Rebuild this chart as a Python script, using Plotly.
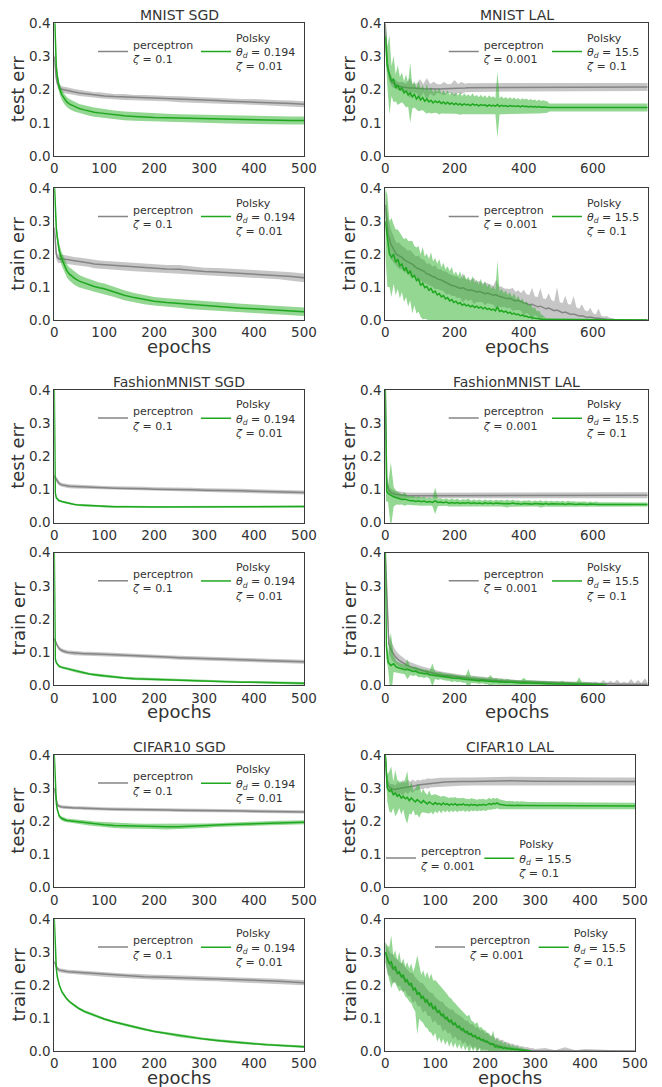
import plotly.graph_objects as go

W, H = 662, 1087
FONT = "DejaVu Sans"
TXT = "#333333"


def grid(values, step, start=0, head=(), tail=()):
    n = len(values) - len(head) - len(tail)
    return list(head) + [start + step * i for i in range(n)] + list(tail)


# ------------------------------------------------------------------ SGD data
SGD_X = [0, 2, 4, 6, 8, 10, 15, 20, 25, 30, 40, 50, 60, 70, 80, 90, 100, 120, 140, 160,
         180, 200, 225, 250, 275, 300, 325, 350, 375, 400, 425, 450, 475, 500]

MN_SGD_TEST_P = [0.300, 0.260, 0.235, 0.220, 0.212, 0.207, 0.201, 0.199, 0.197, 0.196, 0.193, 0.190,
                 0.188, 0.186, 0.184, 0.183, 0.181, 0.179, 0.178, 0.176, 0.175, 0.174, 0.173, 0.171,
                 0.170, 0.168, 0.167, 0.165, 0.164, 0.163, 0.161, 0.160, 0.158, 0.156]
MN_SGD_TEST_P_SD = [0.015, 0.013, 0.012, 0.011, 0.010, 0.010, 0.009, 0.010, 0.009, 0.010, 0.009, 0.009,
                    0.010, 0.009, 0.008, 0.009, 0.009, 0.008, 0.009, 0.008, 0.009, 0.008, 0.008, 0.009,
                    0.008, 0.008, 0.009, 0.008, 0.008, 0.009, 0.008, 0.008, 0.009, 0.009]
MN_SGD_TEST_G = [0.450, 0.320, 0.270, 0.240, 0.220, 0.205, 0.185, 0.172, 0.163, 0.157, 0.149, 0.143,
                 0.139, 0.135, 0.132, 0.130, 0.128, 0.124, 0.121, 0.119, 0.117, 0.116, 0.115, 0.114,
                 0.113, 0.112, 0.111, 0.110, 0.109, 0.108, 0.108, 0.107, 0.107, 0.107]
MN_SGD_TEST_G_SD = [0.020, 0.020, 0.019, 0.018, 0.017, 0.016, 0.016, 0.015, 0.015, 0.015, 0.015, 0.014,
                    0.014, 0.014, 0.014, 0.014, 0.013, 0.013, 0.013, 0.013, 0.013, 0.013, 0.012, 0.012,
                    0.012, 0.012, 0.012, 0.012, 0.012, 0.012, 0.012, 0.012, 0.012, 0.012]

MN_SGD_TRAIN_P = [0.280, 0.230, 0.200, 0.190, 0.186, 0.185, 0.186, 0.185, 0.183, 0.182, 0.179, 0.177,
                  0.175, 0.173, 0.170, 0.169, 0.168, 0.165, 0.163, 0.160, 0.158, 0.156, 0.155, 0.154,
                  0.150, 0.147, 0.146, 0.144, 0.142, 0.140, 0.138, 0.136, 0.132, 0.128]
MN_SGD_TRAIN_P_SD = [0.016, 0.015, 0.014, 0.013, 0.013, 0.012, 0.013, 0.012, 0.013, 0.012, 0.012, 0.013,
                     0.012, 0.012, 0.013, 0.012, 0.012, 0.012, 0.013, 0.012, 0.012, 0.012, 0.012, 0.013,
                     0.012, 0.012, 0.012, 0.013, 0.012, 0.012, 0.012, 0.012, 0.013, 0.013]
MN_SGD_TRAIN_G = [0.420, 0.330, 0.280, 0.250, 0.225, 0.210, 0.185, 0.166, 0.150, 0.140, 0.127, 0.118,
                  0.112, 0.107, 0.102, 0.098, 0.095, 0.085, 0.075, 0.068, 0.062, 0.057, 0.053, 0.050,
                  0.046, 0.043, 0.040, 0.038, 0.036, 0.034, 0.032, 0.030, 0.028, 0.025]
MN_SGD_TRAIN_G_SD = [0.020, 0.020, 0.020, 0.020, 0.020, 0.020, 0.020, 0.020, 0.020, 0.020, 0.020, 0.019,
                     0.018, 0.017, 0.016, 0.016, 0.016, 0.015, 0.015, 0.014, 0.014, 0.013, 0.013, 0.013,
                     0.013, 0.013, 0.013, 0.013, 0.013, 0.013, 0.013, 0.013, 0.013, 0.013]

FM_SGD_TEST_P = [0.140, 0.135, 0.130, 0.125, 0.121, 0.118, 0.114, 0.112, 0.111, 0.110, 0.109, 0.108,
                 0.107, 0.107, 0.106, 0.106, 0.105, 0.104, 0.104, 0.103, 0.102, 0.101, 0.101, 0.100,
                 0.099, 0.098, 0.098, 0.097, 0.096, 0.095, 0.094, 0.093, 0.092, 0.091]
FM_SGD_TEST_P_SD = [0.008, 0.008, 0.007, 0.007, 0.007, 0.006, 0.006, 0.006, 0.006, 0.006, 0.006, 0.006,
                    0.006, 0.006, 0.006, 0.006, 0.006, 0.006, 0.006, 0.006, 0.006, 0.006, 0.006, 0.006,
                    0.006, 0.006, 0.006, 0.006, 0.006, 0.006, 0.006, 0.006, 0.006, 0.006]
FM_SGD_TEST_G = [0.400, 0.090, 0.075, 0.071, 0.068, 0.066, 0.064, 0.062, 0.060, 0.058, 0.055, 0.053,
                 0.052, 0.051, 0.050, 0.050, 0.049, 0.048, 0.048, 0.047, 0.047, 0.047, 0.047, 0.047,
                 0.047, 0.047, 0.047, 0.047, 0.048, 0.048, 0.048, 0.048, 0.049, 0.049]
FM_SGD_TEST_G_SD = [0.003] * 34

FM_SGD_TRAIN_P = [0.140, 0.132, 0.126, 0.120, 0.115, 0.110, 0.105, 0.102, 0.100, 0.099, 0.097, 0.096,
                  0.095, 0.095, 0.094, 0.094, 0.093, 0.092, 0.091, 0.090, 0.088, 0.086, 0.085, 0.083,
                  0.082, 0.080, 0.079, 0.078, 0.077, 0.076, 0.075, 0.073, 0.072, 0.071]
FM_SGD_TRAIN_P_SD = [0.006] * 34
FM_SGD_TRAIN_G = [0.400, 0.080, 0.068, 0.063, 0.060, 0.057, 0.054, 0.052, 0.050, 0.048, 0.044, 0.040,
                  0.037, 0.034, 0.032, 0.030, 0.028, 0.025, 0.022, 0.020, 0.019, 0.017, 0.015, 0.014,
                  0.013, 0.012, 0.011, 0.010, 0.009, 0.009, 0.008, 0.007, 0.007, 0.006]
FM_SGD_TRAIN_G_SD = [0.004] * 34

CF_SGD_TEST_P = [0.300, 0.280, 0.258, 0.250, 0.247, 0.245, 0.243, 0.242, 0.241, 0.241, 0.240, 0.240,
                 0.239, 0.238, 0.238, 0.237, 0.237, 0.236, 0.236, 0.235, 0.235, 0.234, 0.234, 0.233,
                 0.233, 0.232, 0.232, 0.231, 0.231, 0.230, 0.230, 0.229, 0.228, 0.228]
CF_SGD_TEST_P_SD = [0.005] * 34
CF_SGD_TEST_G = [0.400, 0.300, 0.255, 0.235, 0.222, 0.215, 0.208, 0.204, 0.202, 0.201, 0.199, 0.198,
                 0.196, 0.194, 0.192, 0.191, 0.189, 0.187, 0.186, 0.185, 0.184, 0.184, 0.183, 0.183,
                 0.184, 0.186, 0.188, 0.190, 0.191, 0.193, 0.194, 0.195, 0.196, 0.197]
CF_SGD_TEST_G_SD = [0.006, 0.006, 0.006, 0.006, 0.006, 0.006, 0.006, 0.006, 0.006, 0.006, 0.007, 0.007,
                    0.007, 0.007, 0.007, 0.007, 0.008, 0.008, 0.008, 0.008, 0.008, 0.008, 0.008, 0.008,
                    0.007, 0.007, 0.006, 0.006, 0.006, 0.006, 0.006, 0.006, 0.006, 0.006]

CF_SGD_TRAIN_P = [0.270, 0.265, 0.255, 0.250, 0.247, 0.245, 0.243, 0.242, 0.241, 0.240, 0.239, 0.237,
                  0.236, 0.235, 0.234, 0.232, 0.231, 0.229, 0.228, 0.227, 0.225, 0.224, 0.223, 0.222,
                  0.221, 0.219, 0.218, 0.217, 0.216, 0.215, 0.213, 0.211, 0.209, 0.207]
CF_SGD_TRAIN_P_SD = [0.006, 0.006, 0.006, 0.006, 0.006, 0.006, 0.006, 0.006, 0.006, 0.006, 0.006, 0.006,
                     0.006, 0.006, 0.006, 0.006, 0.006, 0.006, 0.007, 0.007, 0.007, 0.007, 0.007, 0.007,
                     0.007, 0.007, 0.007, 0.007, 0.008, 0.008, 0.008, 0.008, 0.008, 0.008]
CF_SGD_TRAIN_G = [0.400, 0.290, 0.250, 0.225, 0.210, 0.200, 0.180, 0.167, 0.158, 0.150, 0.138, 0.128,
                  0.120, 0.114, 0.108, 0.102, 0.097, 0.088, 0.080, 0.073, 0.066, 0.059, 0.053, 0.046,
                  0.041, 0.036, 0.032, 0.028, 0.025, 0.022, 0.019, 0.017, 0.015, 0.013]
CF_SGD_TRAIN_G_SD = [0.004] * 34

# ------------------------------------------------------------------ LAL data
# MNIST LAL test
MN_LAL_TEST_P_X = [0, 4, 8, 12, 16, 20, 30, 40, 50, 60, 70, 80, 90, 100, 110, 120, 130, 140, 150, 160,
                   170, 180, 190, 200, 210, 220, 230, 240, 250, 300, 400, 500, 600, 758]
MN_LAL_TEST_P = [0.400, 0.300, 0.260, 0.240, 0.230, 0.222, 0.215, 0.210, 0.208, 0.206, 0.205, 0.205,
                 0.204, 0.203, 0.204, 0.202, 0.203, 0.202, 0.203, 0.202, 0.203, 0.203, 0.203, 0.204,
                 0.204, 0.205, 0.205, 0.206, 0.206, 0.207, 0.208, 0.208, 0.208, 0.208]
MN_LAL_TEST_P_SD = [0.020, 0.030, 0.020, 0.018, 0.015, 0.014, 0.013, 0.012, 0.015, 0.012, 0.030, 0.013,
                    0.014, 0.028, 0.013, 0.032, 0.014, 0.022, 0.013, 0.014, 0.020, 0.013, 0.014, 0.025,
                    0.013, 0.018, 0.013, 0.014, 0.013, 0.013, 0.012, 0.012, 0.012, 0.012]
MN_LAL_TEST_G = [0.360, 0.270, 0.245, 0.225, 0.232, 0.205, 0.214, 0.198, 0.207, 0.190,
                 0.196, 0.184, 0.190, 0.178, 0.186, 0.172, 0.180, 0.169, 0.176, 0.165,
                 0.172, 0.163, 0.168, 0.160, 0.166, 0.161, 0.165, 0.158, 0.163, 0.157,
                 0.162, 0.156, 0.160, 0.155, 0.159, 0.154, 0.158, 0.153, 0.157, 0.154,
                 0.156, 0.152, 0.157, 0.153, 0.155, 0.151, 0.155, 0.152, 0.154, 0.150,
                 0.154, 0.151, 0.153, 0.150, 0.155, 0.149, 0.153, 0.150, 0.152, 0.149,
                 0.152, 0.150, 0.151, 0.149, 0.151, 0.148, 0.151, 0.149, 0.150, 0.148,
                 0.150, 0.148, 0.149, 0.147, 0.149, 0.147, 0.148, 0.147, 0.147,
                 0.146, 0.146]
MN_LAL_TEST_G_SD = [0.040, 0.060, 0.120, 0.045, 0.070, 0.040, 0.060, 0.040, 0.045, 0.035,
                    0.050, 0.035, 0.090, 0.035, 0.040, 0.032, 0.045, 0.032, 0.038, 0.032,
                    0.045, 0.032, 0.040, 0.032, 0.036, 0.032, 0.040, 0.030, 0.035, 0.030,
                    0.036, 0.028, 0.033, 0.028, 0.032, 0.028, 0.034, 0.027, 0.032, 0.027,
                    0.030, 0.027, 0.032, 0.026, 0.029, 0.026, 0.030, 0.025, 0.029, 0.025,
                    0.029, 0.025, 0.027, 0.024, 0.100, 0.024, 0.027, 0.023, 0.026, 0.023,
                    0.025, 0.022, 0.025, 0.022, 0.024, 0.021, 0.023, 0.021, 0.023, 0.020,
                    0.022, 0.020, 0.021, 0.019, 0.021, 0.019, 0.020, 0.018, 0.017,
                    0.012, 0.012]
MN_LAL_TEST_G_X = grid(MN_LAL_TEST_G, 6, tail=(474, 758))

# MNIST LAL train
MN_LAL_TRAIN_P = [0.350, 0.260, 0.230, 0.215, 0.200, 0.195, 0.190, 0.182, 0.178, 0.172,
                  0.168, 0.160, 0.155, 0.152, 0.148, 0.140, 0.138, 0.132, 0.130, 0.124,
                  0.122, 0.118, 0.112, 0.110, 0.105, 0.103, 0.100, 0.096, 0.098, 0.094,
                  0.090, 0.092, 0.088, 0.085, 0.087, 0.083, 0.080, 0.082, 0.078, 0.075,
                  0.077, 0.072, 0.070, 0.068, 0.065, 0.066, 0.062, 0.058, 0.060, 0.055,
                  0.052, 0.050, 0.046, 0.048, 0.043, 0.040, 0.042, 0.037, 0.034, 0.036,
                  0.031, 0.028, 0.030, 0.026, 0.022, 0.024, 0.020, 0.017, 0.018, 0.014,
                  0.012, 0.013, 0.010, 0.008, 0.009, 0.006, 0.005, 0.005, 0.003, 0.003,
                  0.002, 0.001, 0.001, 0.000,
                  0.000]
MN_LAL_TRAIN_P_SD = [0.040, 0.050, 0.045, 0.040, 0.035, 0.040, 0.035, 0.038, 0.033, 0.040,
                     0.035, 0.033, 0.040, 0.033, 0.035, 0.030, 0.034, 0.030, 0.036, 0.030,
                     0.032, 0.030, 0.035, 0.030, 0.032, 0.030, 0.033, 0.028, 0.045, 0.030,
                     0.032, 0.030, 0.040, 0.030, 0.032, 0.028, 0.035, 0.030, 0.030, 0.028,
                     0.045, 0.030, 0.032, 0.028, 0.030, 0.028, 0.035, 0.028, 0.030, 0.027,
                     0.040, 0.028, 0.030, 0.050, 0.028, 0.030, 0.055, 0.028, 0.030, 0.045,
                     0.030, 0.028, 0.070, 0.028, 0.030, 0.050, 0.028, 0.030, 0.055, 0.025,
                     0.022, 0.035, 0.020, 0.018, 0.028, 0.015, 0.012, 0.030, 0.010, 0.008,
                     0.010, 0.006, 0.005, 0.003,
                     0.000]
MN_LAL_TRAIN_P_X = grid(MN_LAL_TRAIN_P, 8, tail=(758,))
MN_LAL_TRAIN_G = [0.300, 0.240, 0.200, 0.190, 0.200, 0.175, 0.185, 0.165, 0.170, 0.150,
                  0.160, 0.140, 0.150, 0.130, 0.135, 0.120, 0.125, 0.105, 0.112, 0.098,
                  0.102, 0.090, 0.096, 0.083, 0.088, 0.076, 0.080, 0.070, 0.074, 0.064,
                  0.068, 0.058, 0.062, 0.053, 0.057, 0.049, 0.053, 0.045, 0.049, 0.043,
                  0.046, 0.040, 0.044, 0.038, 0.042, 0.036, 0.040, 0.034, 0.038, 0.032,
                  0.035, 0.030, 0.033, 0.028, 0.040, 0.026, 0.029, 0.024, 0.027, 0.021,
                  0.024, 0.018, 0.021, 0.016, 0.018, 0.013, 0.015, 0.011, 0.012, 0.008,
                  0.009, 0.006, 0.006, 0.004, 0.004, 0.002, 0.002, 0.001, 0.000,
                  0.000, 0.000]
MN_LAL_TRAIN_G_SD = [0.100, 0.140, 0.100, 0.120, 0.090, 0.100, 0.090, 0.100, 0.085, 0.095,
                     0.090, 0.100, 0.090, 0.110, 0.090, 0.100, 0.100, 0.095, 0.110, 0.095,
                     0.100, 0.095, 0.110, 0.095, 0.100, 0.095, 0.105, 0.090, 0.100, 0.090,
                     0.095, 0.090, 0.100, 0.085, 0.090, 0.085, 0.095, 0.080, 0.090, 0.080,
                     0.085, 0.075, 0.090, 0.075, 0.080, 0.072, 0.085, 0.070, 0.080, 0.068,
                     0.075, 0.065, 0.070, 0.062, 0.140, 0.060, 0.066, 0.058, 0.062, 0.055,
                     0.060, 0.052, 0.060, 0.048, 0.055, 0.045, 0.050, 0.040, 0.045, 0.035,
                     0.040, 0.030, 0.032, 0.022, 0.025, 0.015, 0.012, 0.006, 0.000,
                     0.000, 0.000]
MN_LAL_TRAIN_G_X = grid(MN_LAL_TRAIN_G, 6, tail=(474, 758))

# FashionMNIST LAL test
FM_LAL_TEST_P_X = [0, 2, 4, 6, 8, 10, 15, 20, 25, 30, 40, 50, 60, 80, 100, 150, 200, 300, 400, 500, 600, 758]
FM_LAL_TEST_P = [0.400, 0.200, 0.140, 0.115, 0.105, 0.098, 0.092, 0.089, 0.087, 0.086, 0.084, 0.083,
                 0.082, 0.081, 0.081, 0.081, 0.082, 0.082, 0.082, 0.083, 0.083, 0.083]
FM_LAL_TEST_P_SD = [0.020, 0.020, 0.015, 0.012, 0.012, 0.012, 0.011, 0.010, 0.010, 0.010, 0.010, 0.010,
                    0.009, 0.009, 0.009, 0.009, 0.009, 0.009, 0.009, 0.009, 0.009, 0.009]
FM_LAL_TEST_G = [0.400, 0.120, 0.095,
                 0.088, 0.082, 0.078, 0.075, 0.072, 0.070, 0.071, 0.068, 0.066, 0.067,
                 0.064, 0.066, 0.063, 0.065, 0.062, 0.064, 0.061, 0.066, 0.061, 0.062,
                 0.060, 0.062, 0.059, 0.061, 0.059, 0.061, 0.058, 0.060, 0.059, 0.061,
                 0.058, 0.060, 0.058, 0.059, 0.057, 0.060, 0.058, 0.059, 0.057, 0.059,
                 0.058, 0.059, 0.057, 0.058, 0.057, 0.059, 0.057, 0.058, 0.056, 0.058,
                 0.057, 0.058, 0.056, 0.058, 0.057, 0.057, 0.056, 0.058, 0.056, 0.057,
                 0.056, 0.057, 0.056, 0.057, 0.055, 0.057, 0.056, 0.056, 0.055, 0.056,
                 0.055, 0.056, 0.055, 0.056, 0.055, 0.056, 0.055, 0.055, 0.055, 0.055,
                 0.055]
FM_LAL_TEST_G_SD = [0.000, 0.060, 0.030,
                    0.025, 0.100, 0.030, 0.020, 0.018, 0.015, 0.020, 0.014, 0.013, 0.015,
                    0.012, 0.014, 0.012, 0.013, 0.011, 0.012, 0.011, 0.040, 0.011, 0.012,
                    0.010, 0.011, 0.010, 0.012, 0.010, 0.011, 0.010, 0.011, 0.010, 0.011,
                    0.009, 0.010, 0.009, 0.011, 0.009, 0.010, 0.009, 0.010, 0.009, 0.010,
                    0.009, 0.010, 0.009, 0.012, 0.009, 0.010, 0.009, 0.010, 0.009, 0.009,
                    0.009, 0.010, 0.008, 0.009, 0.008, 0.011, 0.008, 0.009, 0.008, 0.009,
                    0.008, 0.009, 0.008, 0.009, 0.008, 0.009, 0.008, 0.009, 0.008, 0.008,
                    0.008, 0.008, 0.007, 0.008, 0.007, 0.008, 0.007, 0.007, 0.007, 0.007,
                    0.006]
FM_LAL_TEST_G_X = grid(FM_LAL_TEST_G, 8, start=8, head=(0, 2, 4), tail=(758,))

# FashionMNIST LAL train
FM_LAL_TRAIN_P = [0.400, 0.125, 0.100, 0.085, 0.075, 0.068, 0.062, 0.057, 0.053, 0.050,
                  0.047, 0.044, 0.041, 0.039, 0.036, 0.034, 0.032, 0.031, 0.029, 0.028,
                  0.026, 0.025, 0.024, 0.023, 0.022, 0.020, 0.019, 0.018, 0.018, 0.017,
                  0.016, 0.015, 0.015, 0.014, 0.013, 0.013, 0.012, 0.012, 0.011, 0.011,
                  0.011, 0.010, 0.010, 0.010, 0.009, 0.009, 0.009, 0.008, 0.008, 0.008,
                  0.008, 0.007, 0.007, 0.007, 0.006, 0.006, 0.006, 0.006, 0.005, 0.005,
                  0.005, 0.005, 0.004, 0.004, 0.004, 0.004, 0.004, 0.003, 0.004, 0.003,
                  0.003, 0.003, 0.003, 0.004, 0.003, 0.003,
                  0.003]
FM_LAL_TRAIN_P_SD = [0.000, 0.030, 0.025, 0.020, 0.018, 0.016, 0.015, 0.014, 0.013, 0.013,
                     0.012, 0.012, 0.011, 0.011, 0.010, 0.010, 0.010, 0.009, 0.009, 0.009,
                     0.009, 0.008, 0.008, 0.008, 0.008, 0.007, 0.007, 0.007, 0.007, 0.007,
                     0.007, 0.006, 0.006, 0.006, 0.006, 0.006, 0.006, 0.005, 0.005, 0.005,
                     0.005, 0.005, 0.005, 0.005, 0.005, 0.005, 0.005, 0.005, 0.005, 0.005,
                     0.005, 0.005, 0.005, 0.005, 0.005, 0.005, 0.005, 0.005, 0.005, 0.006,
                     0.005, 0.006, 0.004, 0.012, 0.004, 0.010, 0.004, 0.014, 0.003, 0.008,
                     0.004, 0.016, 0.003, 0.012, 0.004, 0.018,
                     0.005]
FM_LAL_TRAIN_P_X = grid(FM_LAL_TRAIN_P, 10, tail=(758,))
FM_LAL_TRAIN_G = [0.400, 0.120,
                  0.070, 0.060, 0.065, 0.055, 0.052, 0.050, 0.047, 0.048, 0.044, 0.042,
                  0.043, 0.038, 0.037, 0.035, 0.036, 0.032, 0.031, 0.030, 0.028, 0.029,
                  0.026, 0.025, 0.024, 0.022, 0.022, 0.020, 0.021, 0.019, 0.018, 0.019,
                  0.016, 0.017, 0.015, 0.014, 0.015, 0.013, 0.012, 0.013, 0.011, 0.012,
                  0.010, 0.011, 0.009, 0.010, 0.009, 0.008, 0.009, 0.008, 0.007, 0.008,
                  0.007, 0.006, 0.007, 0.006, 0.006, 0.005, 0.006, 0.005, 0.005, 0.004,
                  0.005, 0.004, 0.004, 0.004, 0.003, 0.004, 0.003, 0.003, 0.003, 0.004,
                  0.003, 0.002, 0.003, 0.002, 0.002, 0.002, 0.002, 0.002, 0.001, 0.001]
FM_LAL_TRAIN_G_SD = [0.000, 0.040,
                     0.020, 0.100, 0.025, 0.018, 0.016, 0.015, 0.014, 0.030, 0.013, 0.014,
                     0.013, 0.014, 0.012, 0.013, 0.011, 0.012, 0.035, 0.011, 0.012, 0.011,
                     0.010, 0.011, 0.010, 0.012, 0.010, 0.011, 0.010, 0.011, 0.010, 0.030,
                     0.009, 0.010, 0.009, 0.010, 0.009, 0.010, 0.009, 0.018, 0.009, 0.010,
                     0.008, 0.009, 0.008, 0.009, 0.008, 0.009, 0.008, 0.009, 0.008, 0.015,
                     0.008, 0.009, 0.007, 0.008, 0.007, 0.008, 0.007, 0.008, 0.007, 0.008,
                     0.007, 0.008, 0.007, 0.010, 0.006, 0.007, 0.006, 0.007, 0.006, 0.020,
                     0.006, 0.007, 0.005, 0.006, 0.005, 0.006, 0.004, 0.005, 0.004, 0.003]
FM_LAL_TRAIN_G_X = grid(FM_LAL_TRAIN_G, 8, start=8, head=(0, 3))

# CIFAR10 LAL test
CF_LAL_TEST_P_X = [0, 3, 5, 10, 15, 20, 25, 30, 35, 40, 45, 50, 55, 60, 65, 70, 75, 80, 85, 90,
                   95, 100, 110, 120, 130, 140, 150, 175, 200, 250, 300, 350, 400, 450, 500]
CF_LAL_TEST_P = [0.400, 0.320, 0.310, 0.300, 0.297, 0.296, 0.298, 0.299, 0.300, 0.302,
                 0.303, 0.305, 0.306, 0.307, 0.309, 0.310, 0.311, 0.313, 0.314, 0.315,
                 0.316, 0.317, 0.317, 0.318, 0.319, 0.319, 0.320, 0.320, 0.321, 0.322,
                 0.321, 0.321, 0.320, 0.320, 0.320]
CF_LAL_TEST_P_SD = [0.020, 0.020, 0.015, 0.012, 0.015, 0.012, 0.020, 0.014, 0.025, 0.013,
                    0.022, 0.014, 0.020, 0.013, 0.016, 0.013, 0.015, 0.013, 0.016, 0.013,
                    0.014, 0.013, 0.014, 0.013, 0.013, 0.013, 0.013, 0.012, 0.012, 0.012,
                    0.012, 0.012, 0.012, 0.012, 0.012]
CF_LAL_TEST_G = [0.400, 0.300, 0.290, 0.295, 0.280, 0.285, 0.275, 0.280, 0.270, 0.275,
                 0.268, 0.272, 0.262, 0.270, 0.264, 0.258, 0.265, 0.260, 0.255, 0.262,
                 0.256, 0.252, 0.258, 0.253, 0.250, 0.256, 0.251, 0.254, 0.249, 0.255,
                 0.250, 0.253, 0.248, 0.252, 0.249, 0.253, 0.248, 0.251, 0.249, 0.252,
                 0.248, 0.250, 0.247, 0.251, 0.248, 0.250, 0.247, 0.250, 0.248, 0.251,
                 0.248, 0.250, 0.253, 0.250, 0.254, 0.252, 0.255, 0.251, 0.250, 0.248,
                 0.249, 0.247, 0.248, 0.247, 0.248, 0.247, 0.248, 0.247, 0.248, 0.247,
                 0.247, 0.247, 0.247,
                 0.246]
CF_LAL_TEST_G_SD = [0.030, 0.040, 0.060, 0.070, 0.040, 0.070, 0.050, 0.040, 0.050, 0.040,
                    0.060, 0.080, 0.040, 0.050, 0.030, 0.040, 0.045, 0.050, 0.030, 0.035,
                    0.030, 0.028, 0.035, 0.025, 0.030, 0.025, 0.028, 0.022, 0.025, 0.022,
                    0.024, 0.020, 0.022, 0.020, 0.022, 0.020, 0.021, 0.019, 0.020, 0.019,
                    0.020, 0.018, 0.019, 0.018, 0.019, 0.017, 0.018, 0.017, 0.018, 0.017,
                    0.017, 0.016, 0.018, 0.016, 0.017, 0.016, 0.016, 0.015, 0.015, 0.014,
                    0.014, 0.013, 0.014, 0.013, 0.013, 0.012, 0.013, 0.012, 0.012, 0.012,
                    0.012, 0.011, 0.011,
                    0.010]
CF_LAL_TEST_G_X = grid(CF_LAL_TEST_G, 4, tail=(500,))

# CIFAR10 LAL train
CF_LAL_TRAIN_P = [0.300, 0.270, 0.262, 0.248, 0.246, 0.236, 0.232, 0.222, 0.218, 0.206,
                  0.202, 0.191, 0.188, 0.175, 0.172, 0.160, 0.158, 0.145, 0.142, 0.130,
                  0.128, 0.117, 0.115, 0.104, 0.102, 0.092, 0.091, 0.081, 0.080, 0.071,
                  0.070, 0.061, 0.060, 0.052, 0.051, 0.044, 0.043, 0.037, 0.036, 0.031,
                  0.030, 0.025, 0.024, 0.020, 0.019, 0.016, 0.015, 0.012, 0.011, 0.009,
                  0.008, 0.007, 0.006, 0.005, 0.004, 0.003, 0.003, 0.002, 0.002, 0.001, 0.001,
                  0.001, 0.000, 0.001, 0.000, 0.000, 0.000]
CF_LAL_TRAIN_P_SD = [0.030, 0.040, 0.035, 0.045, 0.035, 0.040, 0.035, 0.045, 0.035, 0.040,
                     0.035, 0.045, 0.035, 0.040, 0.035, 0.045, 0.035, 0.040, 0.035, 0.045,
                     0.035, 0.040, 0.035, 0.045, 0.035, 0.040, 0.035, 0.045, 0.035, 0.040,
                     0.035, 0.040, 0.032, 0.040, 0.030, 0.038, 0.028, 0.035, 0.026, 0.032,
                     0.024, 0.030, 0.022, 0.028, 0.020, 0.025, 0.018, 0.022, 0.016, 0.018,
                     0.014, 0.016, 0.012, 0.014, 0.010, 0.012, 0.008, 0.010, 0.006, 0.008, 0.005,
                     0.008, 0.002, 0.010, 0.002, 0.006, 0.000]
CF_LAL_TRAIN_P_X = grid(CF_LAL_TRAIN_P, 5, tail=(320, 340, 360, 380, 400, 500))
CF_LAL_TRAIN_G = [0.300, 0.280, 0.265, 0.270, 0.250, 0.255, 0.235, 0.240, 0.225, 0.230,
                  0.210, 0.215, 0.200, 0.205, 0.185, 0.190, 0.170, 0.178, 0.160, 0.165,
                  0.148, 0.155, 0.138, 0.145, 0.128, 0.135, 0.118, 0.122, 0.108, 0.112,
                  0.098, 0.102, 0.088, 0.094, 0.080, 0.085, 0.072, 0.076, 0.064, 0.068,
                  0.056, 0.060, 0.050, 0.053, 0.044, 0.047, 0.038, 0.041, 0.033, 0.035,
                  0.028, 0.030, 0.023, 0.020, 0.022, 0.012, 0.014, 0.010, 0.012, 0.008,
                  0.010, 0.006, 0.008, 0.005, 0.006, 0.004, 0.005, 0.003, 0.003, 0.002,
                  0.002, 0.001, 0.001, 0.000]
CF_LAL_TRAIN_G_SD = [0.030, 0.040, 0.050, 0.080, 0.040, 0.050, 0.040, 0.060, 0.040, 0.050,
                     0.045, 0.055, 0.050, 0.060, 0.055, 0.070, 0.120, 0.080, 0.070, 0.080,
                     0.075, 0.085, 0.080, 0.090, 0.085, 0.080, 0.090, 0.080, 0.085, 0.075,
                     0.080, 0.070, 0.075, 0.065, 0.070, 0.060, 0.065, 0.055, 0.060, 0.050,
                     0.055, 0.045, 0.060, 0.040, 0.045, 0.035, 0.050, 0.030, 0.040, 0.030,
                     0.035, 0.025, 0.030, 0.022, 0.040, 0.020, 0.025, 0.018, 0.020, 0.015,
                     0.018, 0.012, 0.015, 0.010, 0.012, 0.008, 0.010, 0.006, 0.008, 0.005,
                     0.005, 0.004, 0.003, 0.000]
CF_LAL_TRAIN_G_X = grid(CF_LAL_TRAIN_G, 4)

# ------------------------------------------------------------------ labels
P_SGD = "perceptron<br><i>ζ</i> = 0.1"
G_SGD = "Polsky<br><i>θ</i><sub><i>d</i></sub> = 0.194<br><i>ζ</i> = 0.01"
P_LAL = "perceptron<br><i>ζ</i> = 0.001"
G_LAL = "Polsky<br><i>θ</i><sub><i>d</i></sub> = 15.5<br><i>ζ</i> = 0.1"
TICKS_500 = [0, 100, 200, 300, 400, 500]
TICKS_750 = [0, 200, 400, 600]

# ------------------------------------------------------------------ layout (pixels)
COLS = {"L": (54.3, 304.0), "R": (385.3, 647.7), "RC": (385.3, 635.0)}
ROWS = [(23.3, 156.0), (188.3, 320.0), (390.0, 522.7), (552.7, 685.3), (755.0, 887.3), (919.0, 1051.0)]
LEG_L = (133, 236)
LEG_R = (483.7, 587)

PANELS = [
    dict(col="L", row=0, title="MNIST SGD", ylab="test err", xmax=500, ticks=TICKS_500,
         p=(SGD_X, MN_SGD_TEST_P, MN_SGD_TEST_P_SD), g=(SGD_X, MN_SGD_TEST_G, MN_SGD_TEST_G_SD),
         names=(P_SGD, G_SGD), leg=LEG_L),
    dict(col="R", row=0, title="MNIST LAL", ylab="test err", xmax=758, ticks=TICKS_750,
         p=(MN_LAL_TEST_P_X, MN_LAL_TEST_P, MN_LAL_TEST_P_SD), g=(MN_LAL_TEST_G_X, MN_LAL_TEST_G, MN_LAL_TEST_G_SD),
         names=(P_LAL, G_LAL), leg=LEG_R),
    dict(col="L", row=1, title=None, ylab="train err", xlab="epochs", xmax=500, ticks=TICKS_500,
         p=(SGD_X, MN_SGD_TRAIN_P, MN_SGD_TRAIN_P_SD), g=(SGD_X, MN_SGD_TRAIN_G, MN_SGD_TRAIN_G_SD),
         names=(P_SGD, G_SGD), leg=LEG_L),
    dict(col="R", row=1, title=None, ylab="train err", xlab="epochs", xmax=758, ticks=TICKS_750,
         p=(MN_LAL_TRAIN_P_X, MN_LAL_TRAIN_P, MN_LAL_TRAIN_P_SD), g=(MN_LAL_TRAIN_G_X, MN_LAL_TRAIN_G, MN_LAL_TRAIN_G_SD),
         names=(P_LAL, G_LAL), leg=LEG_R),
    dict(col="L", row=2, title="FashionMNIST SGD", ylab="test err", xmax=500, ticks=TICKS_500,
         p=(SGD_X, FM_SGD_TEST_P, FM_SGD_TEST_P_SD), g=(SGD_X, FM_SGD_TEST_G, FM_SGD_TEST_G_SD),
         names=(P_SGD, G_SGD), leg=LEG_L),
    dict(col="R", row=2, title="FashionMNIST LAL", ylab="test err", xmax=758, ticks=TICKS_750,
         p=(FM_LAL_TEST_P_X, FM_LAL_TEST_P, FM_LAL_TEST_P_SD), g=(FM_LAL_TEST_G_X, FM_LAL_TEST_G, FM_LAL_TEST_G_SD),
         names=(P_LAL, G_LAL), leg=LEG_R),
    dict(col="L", row=3, title=None, ylab="train err", xlab="epochs", xmax=500, ticks=TICKS_500,
         p=(SGD_X, FM_SGD_TRAIN_P, FM_SGD_TRAIN_P_SD), g=(SGD_X, FM_SGD_TRAIN_G, FM_SGD_TRAIN_G_SD),
         names=(P_SGD, G_SGD), leg=LEG_L),
    dict(col="R", row=3, title=None, ylab="train err", xlab="epochs", xmax=758, ticks=TICKS_750,
         p=(FM_LAL_TRAIN_P_X, FM_LAL_TRAIN_P, FM_LAL_TRAIN_P_SD), g=(FM_LAL_TRAIN_G_X, FM_LAL_TRAIN_G, FM_LAL_TRAIN_G_SD),
         names=(P_LAL, G_LAL), leg=LEG_R),
    dict(col="L", row=4, title="CIFAR10 SGD", ylab="test err", xmax=500, ticks=TICKS_500,
         p=(SGD_X, CF_SGD_TEST_P, CF_SGD_TEST_P_SD), g=(SGD_X, CF_SGD_TEST_G, CF_SGD_TEST_G_SD),
         names=(P_SGD, G_SGD), leg=LEG_L),
    dict(col="RC", row=4, title="CIFAR10 LAL", ylab="test err", xmax=500, ticks=TICKS_500,
         p=(CF_LAL_TEST_P_X, CF_LAL_TEST_P, CF_LAL_TEST_P_SD), g=(CF_LAL_TEST_G_X, CF_LAL_TEST_G, CF_LAL_TEST_G_SD),
         names=(P_LAL, G_LAL), leg=(421, 519.3), legy=858.3),
    dict(col="L", row=5, title=None, ylab="train err", xlab="epochs", xmax=500, ticks=TICKS_500,
         p=(SGD_X, CF_SGD_TRAIN_P, CF_SGD_TRAIN_P_SD), g=(SGD_X, CF_SGD_TRAIN_G, CF_SGD_TRAIN_G_SD),
         names=(P_SGD, G_SGD), leg=LEG_L),
    dict(col="RC", row=5, title=None, ylab="train err", xlab="epochs", xmax=500, ticks=TICKS_500,
         p=(CF_LAL_TRAIN_P_X, CF_LAL_TRAIN_P, CF_LAL_TRAIN_P_SD), g=(CF_LAL_TRAIN_G_X, CF_LAL_TRAIN_G, CF_LAL_TRAIN_G_SD),
         names=(P_LAL, G_LAL), leg=(470, 573.7)),
]

STYLE = {
    "p": dict(line="#858585", band="rgba(128,128,128,0.45)"),
    "g": dict(line="#1fa81f", band="rgba(40,175,40,0.5)"),
}

fig = go.Figure()
layout = dict(
    width=W, height=H, margin=dict(l=0, r=0, t=0, b=0, autoexpand=False),
    paper_bgcolor="white", plot_bgcolor="white",
    font=dict(family=FONT, color=TXT),
    showlegend=True, hovermode=False,
)
annotations = []
LEG_DX = 40  # text offset inside a plotly legend item

for k, p in enumerate(PANELS):
    i = k + 1
    xs = "" if i == 1 else str(i)
    x0, x1 = COLS[p["col"]]
    top, bot = ROWS[p["row"]]
    layout["xaxis" + xs] = dict(
        domain=[x0 / W, x1 / W], anchor="y" + xs, range=[0, p["xmax"]],
        tickvals=p["ticks"], ticks="", showgrid=False, zeroline=False, automargin=False,
        showline=True, mirror=True, linecolor="#3a3a3a", linewidth=1,
        tickfont=dict(family=FONT, size=13.5, color=TXT), fixedrange=True,
    )
    layout["yaxis" + xs] = dict(
        domain=[1 - bot / H, 1 - top / H], anchor="x" + xs, range=[0, 0.4],
        tickvals=[0, 0.1, 0.2, 0.3, 0.4], ticktext=["0.0", "0.1", "0.2", "0.3", "0.4"],
        ticks="", showgrid=False, zeroline=False, automargin=False,
        showline=True, mirror=True, linecolor="#3a3a3a", linewidth=1,
        tickfont=dict(family=FONT, size=13.5, color=TXT), fixedrange=True,
    )
    cx = (x0 + x1) / 2
    cy = (top + bot) / 2
    if p.get("title"):
        annotations.append(dict(text=p["title"], x=cx / W, y=1 - (top - 8.5) / H, xref="paper", yref="paper",
                                xanchor="center", yanchor="middle", showarrow=False,
                                font=dict(family=FONT, size=14, color=TXT)))
    ylx = 17.5 if p["col"] == "L" else 348.5
    annotations.append(dict(text=p["ylab"], x=ylx / W, y=1 - cy / H, xref="paper", yref="paper",
                            xanchor="center", yanchor="middle", textangle=-90, showarrow=False,
                            font=dict(family=FONT, size=18, color=TXT)))
    if p.get("xlab"):
        annotations.append(dict(text=p["xlab"], x=cx / W, y=1 - (bot + 26.5) / H, xref="paper", yref="paper",
                                xanchor="center", yanchor="middle", showarrow=False,
                                font=dict(family=FONT, size=18, color=TXT)))
    legy = p.get("legy", top + 28.3)
    for j, key in enumerate(("p", "g")):
        sx, sy, sd = p[key]
        assert len(sx) == len(sy) == len(sd), (p.get("title"), k, key, len(sx), len(sy), len(sd))
        upper = [v + s for v, s in zip(sy, sd)]
        lower = [v - s for v, s in zip(sy, sd)]
        st = STYLE[key]
        fig.add_trace(go.Scatter(
            x=list(sx) + list(sx)[::-1], y=upper + lower[::-1], mode="lines", fill="toself",
            fillcolor=st["band"], line=dict(width=0, color=st["band"]),
            xaxis="x" + xs, yaxis="y" + xs, showlegend=False, hoverinfo="skip"))
        lid = 2 * k + j + 1
        lname = "legend" if lid == 1 else f"legend{lid}"
        fig.add_trace(go.Scatter(
            x=sx, y=sy, mode="lines", line=dict(color=st["line"], width=1.5),
            name=p["names"][j], xaxis="x" + xs, yaxis="y" + xs,
            legend=lname, showlegend=True, hoverinfo="skip"))
        layout[lname] = dict(
            x=(p["leg"][j] - LEG_DX) / W, y=1 - legy / H, xanchor="left", yanchor="middle",
            bgcolor="rgba(0,0,0,0)", borderwidth=0, font=dict(family=FONT, size=11, color=TXT),
            itemwidth=30, valign="middle", itemclick=False, itemdoubleclick=False,
        )

layout["annotations"] = annotations
fig.update_layout(**layout)
# the page's default 8px body margin would shift the whole figure; remove it
fig.write_html(
    "out.html",
    config={"displayModeBar": False, "staticPlot": True},
    post_script="document.body.style.margin='0';document.body.style.overflow='hidden';",
)
